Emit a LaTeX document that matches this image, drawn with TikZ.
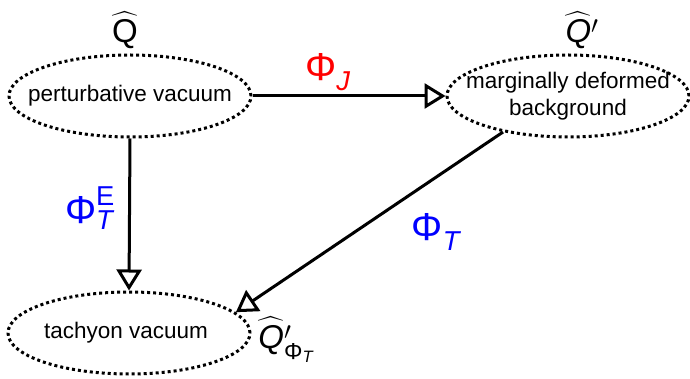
\documentclass[tikz,border=0pt]{standalone}
\usepackage{amsmath}
\usepackage{fontspec}
\setmainfont{Liberation Sans}
\usetikzlibrary{arrows.meta,shapes.geometric}
\begin{document}
\begin{tikzpicture}[x=1pt,y=-1pt,
  vac/.style={ellipse, draw, line width=3pt,
    dash pattern=on 3pt off 3pt, minimum width=242pt, minimum height=82pt,
    inner sep=0pt},
  vtext/.style={inner sep=0pt, align=center, font=\fontsize{22.5}{27.5}\selectfont},
  conn/.style={line width=3pt, -{Triangle[open, length=21pt, width=25pt, line width=3pt]}},
  lbl/.style={inner sep=0pt, font=\fontsize{33}{36}\selectfont},
  phi/.style={inner sep=0pt, font=\fontsize{39}{42}\selectfont}]
\useasboundingbox (0,0) rectangle (690,379);
\node[vac] (pv) at (130,96) {};
\node[vac] (md) at (568,96) {};
\node[vac] (tv) at (129,333) {};
\node[vtext] (pvt) at (pv.center) {perturbative vacuum};
\node[vtext] (mdt) at (md.center) {marginally deformed\\background};
\node[vtext] (tvt) at (126,333) {tachyon vacuum};
\draw[conn] (pv.east) -- (md.west);
\draw[conn] (pv.south) -- (tv.north);
\draw[conn] (md.209) -- (tv.11);
\node[lbl] (q1) at (125,30) {$\widehat{\text{Q}}$};
\node[lbl] (q2) at (582,30) {$\widehat{\textit{Q}}{}'$};
\node[phi, text=red] (pj) at (328,72) {$\text{Φ}_{\textit{J}}$};
\node[phi, text=blue] (pte) at (90,208) {$\text{Φ}^{\text{E}}_{\textit{T}}$};
\node[phi, text=blue] (pt) at (436,232) {$\text{Φ}_{\textit{T}}$};
\node[lbl] (q3) at (286,340) {$\widehat{\textit{Q}}{}'_{\text{Φ}_{\textit{T}}}$};
\end{tikzpicture}
\end{document}
